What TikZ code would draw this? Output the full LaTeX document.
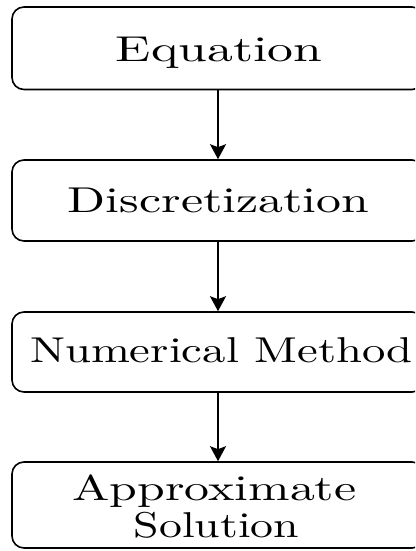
\documentclass[tikz,border=0pt]{standalone}
\usetikzlibrary{arrows.meta}
\begin{document}
\begin{tikzpicture}[x=1pt,y=1pt,
  box/.style={draw,line width=1.6pt,rounded corners=12pt,minimum width=412pt,inner sep=0pt},
  lbl/.style={anchor=base,inner sep=0pt,font=\fontsize{10}{12}\selectfont},
  flow/.style={line width=1.6pt,-{Stealth[length=15pt,width=16pt,inset=3pt]}}]
\useasboundingbox (0,0) rectangle (415,-551);
\clip (0,0) rectangle (415,-551);
\node[box,minimum height=82.5pt] (b1) at (218,-48.25) {};
\node[box,minimum height=81pt] (b2) at (218,-200.5) {};
\node[box,minimum height=80pt] (b3) at (218,-352) {};
\node[box,minimum height=86pt] (b4) at (218,-505) {};
\node[lbl] (t1) at (219,-61) {\scalebox{5.17}[3.59]{Equation}};
\node[lbl] (t2) at (218.5,-212) {\scalebox{4.98}[3.59]{Discretization}};
\node[lbl] (t3) at (221.5,-362) {\scalebox{4.67}[3.59]{Numerical Method}};
\node[lbl] (t4a) at (214.5,-500) {\scalebox{4.98}[3.59]{Approximate}};
\node[lbl] (t4b) at (216.5,-537) {\scalebox{4.58}[3.59]{Solution}};
\draw[flow] (b1.south) -- (b2.north);
\draw[flow] (b2.south) -- (b3.north);
\draw[flow] (b3.south) -- (b4.north);
\end{tikzpicture}
\end{document}
